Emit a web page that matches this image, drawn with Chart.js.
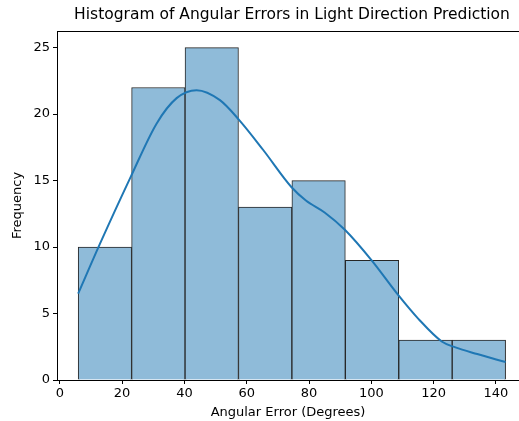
<!DOCTYPE html>
<html>
<head>
<meta charset="utf-8">
<script src="https://cdn.jsdelivr.net/npm/chart.js@4"></script>
<style>
  html, body { margin: 0; padding: 0; background: #fff; }
  canvas { display: block; }
</style>
</head>
<body>
<canvas id="grafico" width="519" height="421"></canvas>
<script>
// histogram bins (angular error, degrees)
const binEdges = [5.9, 23.05, 40.2, 57.35, 74.5, 91.65, 108.8, 125.95, 143.1]
const binCounts = [10, 22, 25, 13, 15, 9, 3, 3]

// kde curve (scaled to counts)
const kdeX = [5.9, 12.8, 22.8, 31.1, 37.5, 43.9, 51.4, 57.6, 65.3, 74.4, 79, 85, 91.5, 100.1, 108.6, 115.1, 122.6, 127, 134, 143.1]
const kdeY = [6.5, 10.2, 15.3, 19.3, 21.2, 21.8, 21.05, 19.55, 17.3, 14.5, 13.5, 12.6, 11.3, 9.0, 6.4, 4.6, 2.9, 2.45, 1.95, 1.35]

const xTicks = [0, 20, 40, 60, 80, 100, 120, 140]
const yTicks = [0, 5, 10, 15, 20, 25]

const titulo = 'Histogram of Angular Errors in Light Direction Prediction'
const fonte = 'DejaVu Sans'

const barras = binCounts.map((c, i) => ({ x: (binEdges[i] + binEdges[i + 1]) / 2, y: c }))
const curva = kdeX.map((x, i) => ({ x, y: kdeY[i] }))

// title centred on the full axes (which run past the right edge) + top spine
const moldura = {
  id: 'moldura',
  afterDraw(chart) {
    const { ctx, chartArea } = chart
    ctx.save()
    ctx.strokeStyle = '#000'
    ctx.lineWidth = 1
    ctx.beginPath()
    ctx.moveTo(chartArea.left, chartArea.top + 0.5)
    ctx.lineTo(chartArea.right, chartArea.top + 0.5)
    ctx.stroke()

    ctx.fillStyle = '#000'
    ctx.font = `15.5px "${fonte}"`
    ctx.textAlign = 'center'
    ctx.textBaseline = 'middle'
    ctx.fillText(titulo, 292, 15)
    ctx.restore()
  }
}

new Chart(document.getElementById('grafico'), {
  type: 'bar',
  data: {
    datasets: [
      {
        type: 'line',
        data: curva,
        borderColor: '#1f77b4',
        borderWidth: 2,
        pointRadius: 0,
        cubicInterpolationMode: 'monotone',
        order: 0
      },
      {
        type: 'bar',
        data: barras,
        backgroundColor: '#8fbbd9',
        borderColor: '#262626',
        borderWidth: 1,
        borderSkipped: 'bottom',
        barPercentage: 1,
        categoryPercentage: 1,
        order: 1
      }
    ]
  },
  plugins: [moldura],
  options: {
    responsive: false,
    animation: false,
    devicePixelRatio: 1,
    layout: { padding: { top: 31, left: 0, right: 0, bottom: 0 } },
    plugins: {
      legend: { display: false },
      tooltip: { enabled: false },
      title: { display: false }
    },
    scales: {
      x: {
        type: 'linear',
        min: -0.9,
        max: 147.4,
        offset: false,
        afterFit: (s) => { s.height = 41 },
        afterBuildTicks: (s) => { s.ticks = xTicks.map((v) => ({ value: v })) },
        ticks: { color: '#000', font: { family: fonte, size: 13 }, padding: 2, maxRotation: 0 },
        grid: { display: true, drawOnChartArea: false, offset: false, color: '#000', tickLength: 4 },
        border: { display: true, color: '#000', width: 1 },
        title: {
          display: true,
          text: 'Angular Error (Degrees)',
          color: '#000',
          font: { family: fonte, size: 13 },
          padding: { top: 0, bottom: 1 }
        }
      },
      y: {
        min: 0,
        max: 26.25,
        afterFit: (s) => { s.width = 57 },
        afterBuildTicks: (s) => { s.ticks = yTicks.map((v) => ({ value: v })) },
        ticks: { color: '#000', font: { family: fonte, size: 13 }, padding: 3 },
        grid: { display: true, drawOnChartArea: false, color: '#000', tickLength: 4 },
        border: { display: true, color: '#000', width: 1 },
        title: {
          display: true,
          text: 'Frequency',
          color: '#000',
          font: { family: fonte, size: 13 },
          padding: { top: 10, bottom: 10 }
        }
      }
    }
  }
})
</script>
</body>
</html>
